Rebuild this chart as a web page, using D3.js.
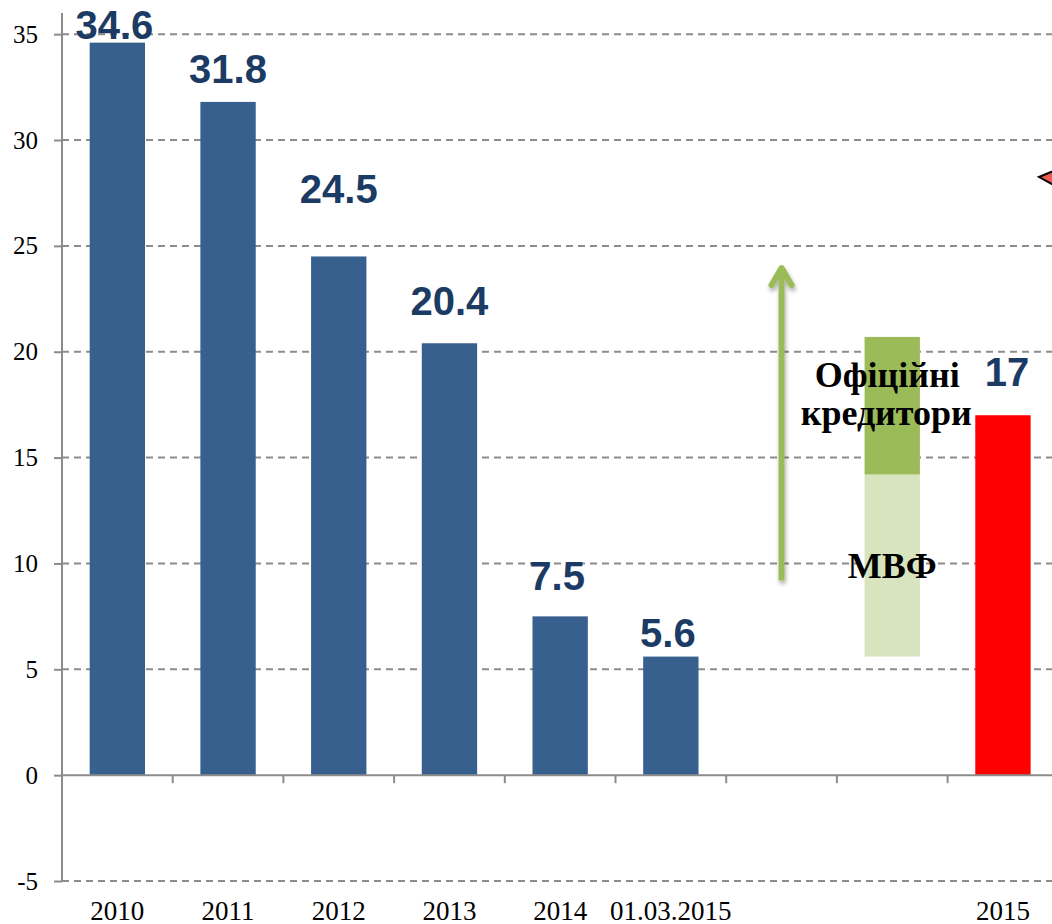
<!DOCTYPE html>
<html>
<head>
<meta charset="utf-8">
<style>
    body { margin: 0; background: #fff; }
    svg { display: block; }
    .grid line { stroke: #8c8c8c; stroke-width: 2; stroke-dasharray: 7,5; }
    .yAxis path, .yAxis line { stroke: #8c8c8c; stroke-width: 2; }
    .val { font-family: "Liberation Sans", Arial, sans-serif; font-weight: bold; font-size: 40px; fill: #1b3a64; }
    .note { font-family: "Liberation Serif", serif; font-weight: bold; font-size: 36px; fill: #000; }
</style>
</head>
<body>
<svg id="container" width="1052" height="924">
    <defs>
        <filter id="shadow" x="-50%" y="-10%" width="200%" height="120%">
            <feDropShadow dx="1" dy="3" stdDeviation="2" flood-color="#000" flood-opacity="0.35"></feDropShadow>
        </filter>
    </defs>
    <g id="grid" class="grid"></g>
    <g id="body"></g>
    <g id="yAxis" class="yAxis"></g>
    <g id="xAxis" class="xAxis"></g>
</svg>
<script src="https://cdn.jsdelivr.net/npm/d3@7"></script>
<script>
    // categories (two empty slots hold the arrow and the IMF / official bar)
    let categories = ["2010", "2011", "2012", "2013", "2014", "01.03.2015", "", "", "2015"]
    let reserves = [34.6, 31.8, 24.5, 20.4, 7.5, 5.6, null, null, null]
    let need2015 = 17
    // stacked bar: starts at current reserves, then IMF, then other official creditors
    let stackBase = 5.6
    let imf = 8.6
    let official = 6.5
    let arrowRange = [9.2, 24]
    let yTicks = [-5, 0, 5, 10, 15, 20, 25, 30, 35]

    let svg = d3.select("#container")
    let body = d3.select("#body")

    let x = d3.scaleBand()
        .domain(d3.range(categories.length))
        .range([62, 62 + 9 * 110.7])
        .paddingInner(0.5)
        .paddingOuter(0.25)

    let y = d3.scaleLinear()
        .domain([-5, 36])
        .range([881, 13])

    // dashed gridlines (zero line is the x axis itself)
    d3.select("#grid").selectAll("line")
        .data(yTicks.filter(d => d != 0))
        .enter().append("line")
        .attr("x1", 62).attr("x2", 1060)
        .attr("y1", d => y(d)).attr("y2", d => y(d))

    // y axis
    d3.select("#yAxis")
        .attr("transform", "translate(62,0)")
        .call(d3.axisLeft(y).tickValues(yTicks).tickSize(8).tickSizeOuter(0).tickPadding(16)
            .tickFormat(d => String(d)))
    d3.select("#yAxis").select(".domain").attr("d", `M0,${y(-5)}V${y(36)}`)
    d3.select("#yAxis").selectAll("text")
        .style("font-family", "'Liberation Serif', serif")
        .style("font-size", "25px")
        .style("fill", "#000")

    // x axis line at zero and boundary ticks
    let zeroLine = svg.insert("g", "#yAxis")
    zeroLine.append("line")
        .attr("x1", 62).attr("x2", 1060)
        .attr("y1", y(0)).attr("y2", y(0))
        .attr("stroke", "#8c8c8c").attr("stroke-width", 2)
    zeroLine.selectAll(".btick")
        .data(d3.range(1, categories.length))
        .enter().append("line")
        .attr("x1", d => x(d) - x.step() * x.paddingInner() / 2)
        .attr("x2", d => x(d) - x.step() * x.paddingInner() / 2)
        .attr("y1", y(0)).attr("y2", y(0) + 8)
        .attr("stroke", "#8c8c8c").attr("stroke-width", 2)

    // category labels below the -5 line
    d3.select("#xAxis")
        .attr("transform", `translate(0,${y(-5)})`)
        .call(d3.axisBottom(x).tickSize(0).tickPadding(20).tickFormat(i => categories[i]))
    d3.select("#xAxis").select(".domain").remove()
    d3.select("#xAxis").selectAll("text")
        .style("font-family", "'Liberation Serif', serif")
        .style("font-size", "27px")
        .style("fill", "#000")

    // historical reserves
    let hist = reserves.map((v, i) => ({ i: i, v: v })).filter(d => d.v != null)
    body.selectAll(".bar")
        .data(hist)
        .enter().append("rect")
        .attr("class", "bar")
        .attr("x", d => x(d.i))
        .attr("width", x.bandwidth())
        .attr("y", d => y(d.v))
        .attr("height", d => y(0) - y(d.v))
        .attr("fill", "#37608f")

    // label lifts above bar tops, in px (labels were hand placed in the original)
    let lift = [4, 19, 53, 28, 26, 10]
    body.selectAll(".val")
        .data(hist)
        .enter().append("text")
        .attr("class", "val")
        .attr("text-anchor", "middle")
        .attr("x", d => x(d.i) + x.bandwidth() / 2 - (d.i == 0 ? 3 : 0) - (d.i >= 4 ? 3 : 0))
        .attr("y", (d, k) => y(d.v) - lift[k])
        .text(d => d.v)

    // stacked IMF / official creditors bar
    let sx = x(7)
    body.append("rect")
        .attr("x", sx).attr("width", x.bandwidth())
        .attr("y", y(stackBase + imf))
        .attr("height", y(stackBase) - y(stackBase + imf))
        .attr("fill", "#d8e4bd")
    body.append("rect")
        .attr("x", sx).attr("width", x.bandwidth())
        .attr("y", y(stackBase + imf + official))
        .attr("height", y(stackBase + imf) - y(stackBase + imf + official))
        .attr("fill", "#9bbb59")

    // 2015 need
    let rx = x(8)
    body.append("rect")
        .attr("x", rx).attr("width", x.bandwidth())
        .attr("y", y(need2015))
        .attr("height", y(0) - y(need2015))
        .attr("fill", "#ff0000")
    body.append("text")
        .attr("class", "val")
        .attr("text-anchor", "middle")
        .attr("x", rx + x.bandwidth() / 2 + 4)
        .attr("y", y(need2015) - 29)
        .text(need2015)

    // green arrow
    let ax = x(6) + x.bandwidth() / 2
    let arrow = body.append("g")
        .attr("fill", "none")
        .attr("stroke", "#9bbb59")
        .attr("stroke-width", 6)
        .attr("stroke-linecap", "round")
        .attr("stroke-linejoin", "round")
        .attr("filter", "url(#shadow)")
    arrow.append("path")
        .attr("stroke-linecap", "butt")
        .attr("d", `M${ax},${y(arrowRange[0])}V${y(arrowRange[1]) + 3}`)
    arrow.append("path")
        .attr("d", `M${ax - 10},${y(arrowRange[1]) + 18}L${ax},${y(arrowRange[1]) + 1}L${ax + 10},${y(arrowRange[1]) + 18}`)

    // annotations
    let cx = sx + x.bandwidth() / 2
    let topY = y(stackBase + imf + official)
    body.append("text").attr("class", "note").attr("text-anchor", "middle")
        .attr("x", cx - 5).attr("y", topY + 50).text("Офіційні")
    body.append("text").attr("class", "note").attr("text-anchor", "middle")
        .attr("x", cx - 6).attr("y", topY + 88).text("кредитори")
    body.append("text").attr("class", "note").attr("text-anchor", "middle")
        .attr("x", cx).attr("y", y(stackBase) - 79).text("МВФ")

    // red pointer at the right edge
    svg.append("path")
        .attr("d", "M1039,177L1066,166L1066,192Z")
        .attr("fill", "#f05a55")
        .attr("stroke", "#000")
        .attr("stroke-width", 2)
</script>
</body>
</html>
